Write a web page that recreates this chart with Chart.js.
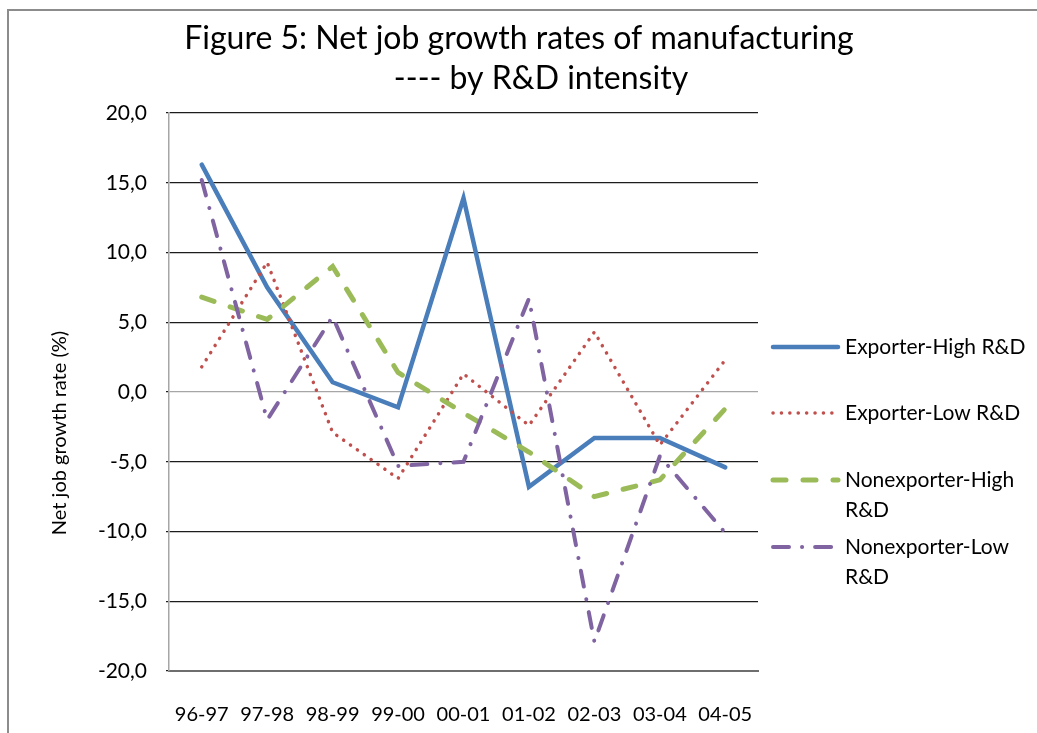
<!DOCTYPE html>
<html>
<head>
<meta charset="utf-8">
<script src="https://cdn.jsdelivr.net/npm/chart.js@4/dist/chart.umd.min.js"></script>
<style>
  html, body { margin: 0; padding: 0; background: #fff; }
  #wrap { width: 1037px; height: 733px; position: relative; }
</style>
</head>
<body>
<div id="wrap"><canvas id="c" width="1037" height="733"></canvas></div>
<script>
// Periods (fiscal years)
const categories = ['96-97', '97-98', '98-99', '99-00', '00-01', '01-02', '02-03', '03-04', '04-05'];

// Net job growth rates (%)
const exporterHigh    = [16.3, 7.5, 0.7, -1.1, 13.9, -6.8, -3.3, -3.3, -5.4];
const exporterLow     = [1.8, 9.3, -2.9, -6.2, 1.3, -2.4, 4.3, -3.8, 2.3];
const nonexporterHigh = [6.8, 5.2, 9.0, 1.4, -1.5, -4.3, -7.5, -6.3, -1.2];
const nonexporterLow  = [15.2, -2.0, 5.4, -5.3, -5.0, 6.7, -17.9, -4.6, -10.1];

// Legend labels (one entry per line of text)
const seriesLabels = [
  ['Exporter-High R&D'],
  ['Exporter-Low R&D'],
  ['Nonexporter-High', 'R&D'],
  ['Nonexporter-Low', 'R&D']
];

const titleLines = ['Figure 5: Net job growth rates of manufacturing', '---- by R&D intensity'];
const yAxisTitle = 'Net job growth rate (%)';

const FONT = 'Lato, "Open Sans", sans-serif';

// Frame, title, rotated axis title and a wrapped legend
const decorations = {
  id: 'decorations',
  beforeDraw(chart) {
    const ctx = chart.ctx;
    ctx.save();
    ctx.fillStyle = '#fff';
    ctx.fillRect(0, 0, chart.width, chart.height);
    ctx.strokeStyle = '#8c8c8c';
    ctx.lineWidth = 2;
    ctx.beginPath();
    ctx.moveTo(8, chart.height);
    ctx.lineTo(8, 10);
    ctx.lineTo(chart.width, 10);
    ctx.stroke();
    ctx.restore();
  },
  afterDraw(chart) {
    const ctx = chart.ctx;
    ctx.save();
    ctx.fillStyle = '#000';
    ctx.textBaseline = 'alphabetic';
    ctx.textAlign = 'center';
    ctx.font = '32px ' + FONT;
    ctx.fillText(titleLines[0], 519, 49);
    ctx.fillText(titleLines[1], 541, 89);

    // rotated y-axis title
    ctx.save();
    ctx.translate(60, 433);
    ctx.rotate(-Math.PI / 2);
    ctx.textAlign = 'center';
    ctx.textBaseline = 'middle';
    ctx.font = '20px ' + FONT;
    ctx.fillText(yAxisTitle, 0, 0);
    ctx.restore();

    // legend
    const rows = [347, 413, 480, 547];
    ctx.font = '21px ' + FONT;
    ctx.textAlign = 'left';
    ctx.textBaseline = 'middle';
    chart.data.datasets.forEach((ds, i) => {
      const y = rows[i];
      ctx.save();
      ctx.strokeStyle = ds.borderColor;
      ctx.lineWidth = ds.borderWidth;
      ctx.lineCap = ds.borderCapStyle || 'butt';
      ctx.setLineDash(ds.borderDash || []);
      ctx.beginPath();
      ctx.moveTo(773, y);
      ctx.lineTo(838, y);
      ctx.stroke();
      ctx.restore();
      seriesLabels[i].forEach((t, k) => {
        ctx.fillText(t, 845, y + k * 30);
      });
    });
    ctx.restore();
  }
};

new Chart(document.getElementById('c'), {
  type: 'line',
  data: {
    labels: categories,
    datasets: [
      { label: seriesLabels[0].join(' '), data: exporterHigh, borderColor: '#4A7EBB', borderWidth: 4.5,
        borderCapStyle: 'round', borderJoinStyle: 'miter', order: 4 },
      { label: seriesLabels[1].join(' '), data: exporterLow, borderColor: '#C0504D', borderWidth: 3.5,
        borderDash: [0.1, 8.3], borderCapStyle: 'round', order: 3 },
      { label: seriesLabels[2].join(' '), data: nonexporterHigh, borderColor: '#9BBB59', borderWidth: 5,
        borderDash: [13, 17], borderCapStyle: 'round', order: 2 },
      { label: seriesLabels[3].join(' '), data: nonexporterLow, borderColor: '#8064A2', borderWidth: 4,
        borderDash: [16, 13, 0.1, 13], borderCapStyle: 'round', order: 1 }
    ].map(d => Object.assign(d, { fill: false, tension: 0, pointRadius: 0, pointHoverRadius: 0 }))
  },
  options: {
    responsive: false,
    animation: false,
    layout: { padding: { top: 113, right: 279, bottom: 0, left: 0 } },
    plugins: {
      legend: { display: false },
      title: { display: false },
      tooltip: { enabled: false }
    },
    scales: {
      x: {
        offset: true,
        grid: { display: false, drawTicks: false },
        border: { display: true, color: '#6e6e6e', width: 2 },
        ticks: { color: '#000', font: { family: FONT, size: 20 }, padding: 32, maxRotation: 0, autoSkip: false },
        afterFit(scale) { scale.height = 62; }
      },
      y: {
        min: -20, max: 20,
        grid: {
          color: ctx => (ctx.tick && ctx.tick.value === 0) ? '#a6a6a6' : '#1c1c1c',
          lineWidth: 1.2,
          drawTicks: true, tickLength: 3, tickColor: '#1c1c1c'
        },
        border: { display: true, color: '#a6a6a6', width: 1.5 },
        ticks: {
          stepSize: 5, color: '#000', padding: 19,
          font: { family: FONT, size: 21 },
          callback: v => v.toFixed(1).replace('.', ',')
        },
        afterFit(scale) { scale.width = 169; }
      }
    }
  },
  plugins: [decorations]
});
</script>
</body>
</html>
